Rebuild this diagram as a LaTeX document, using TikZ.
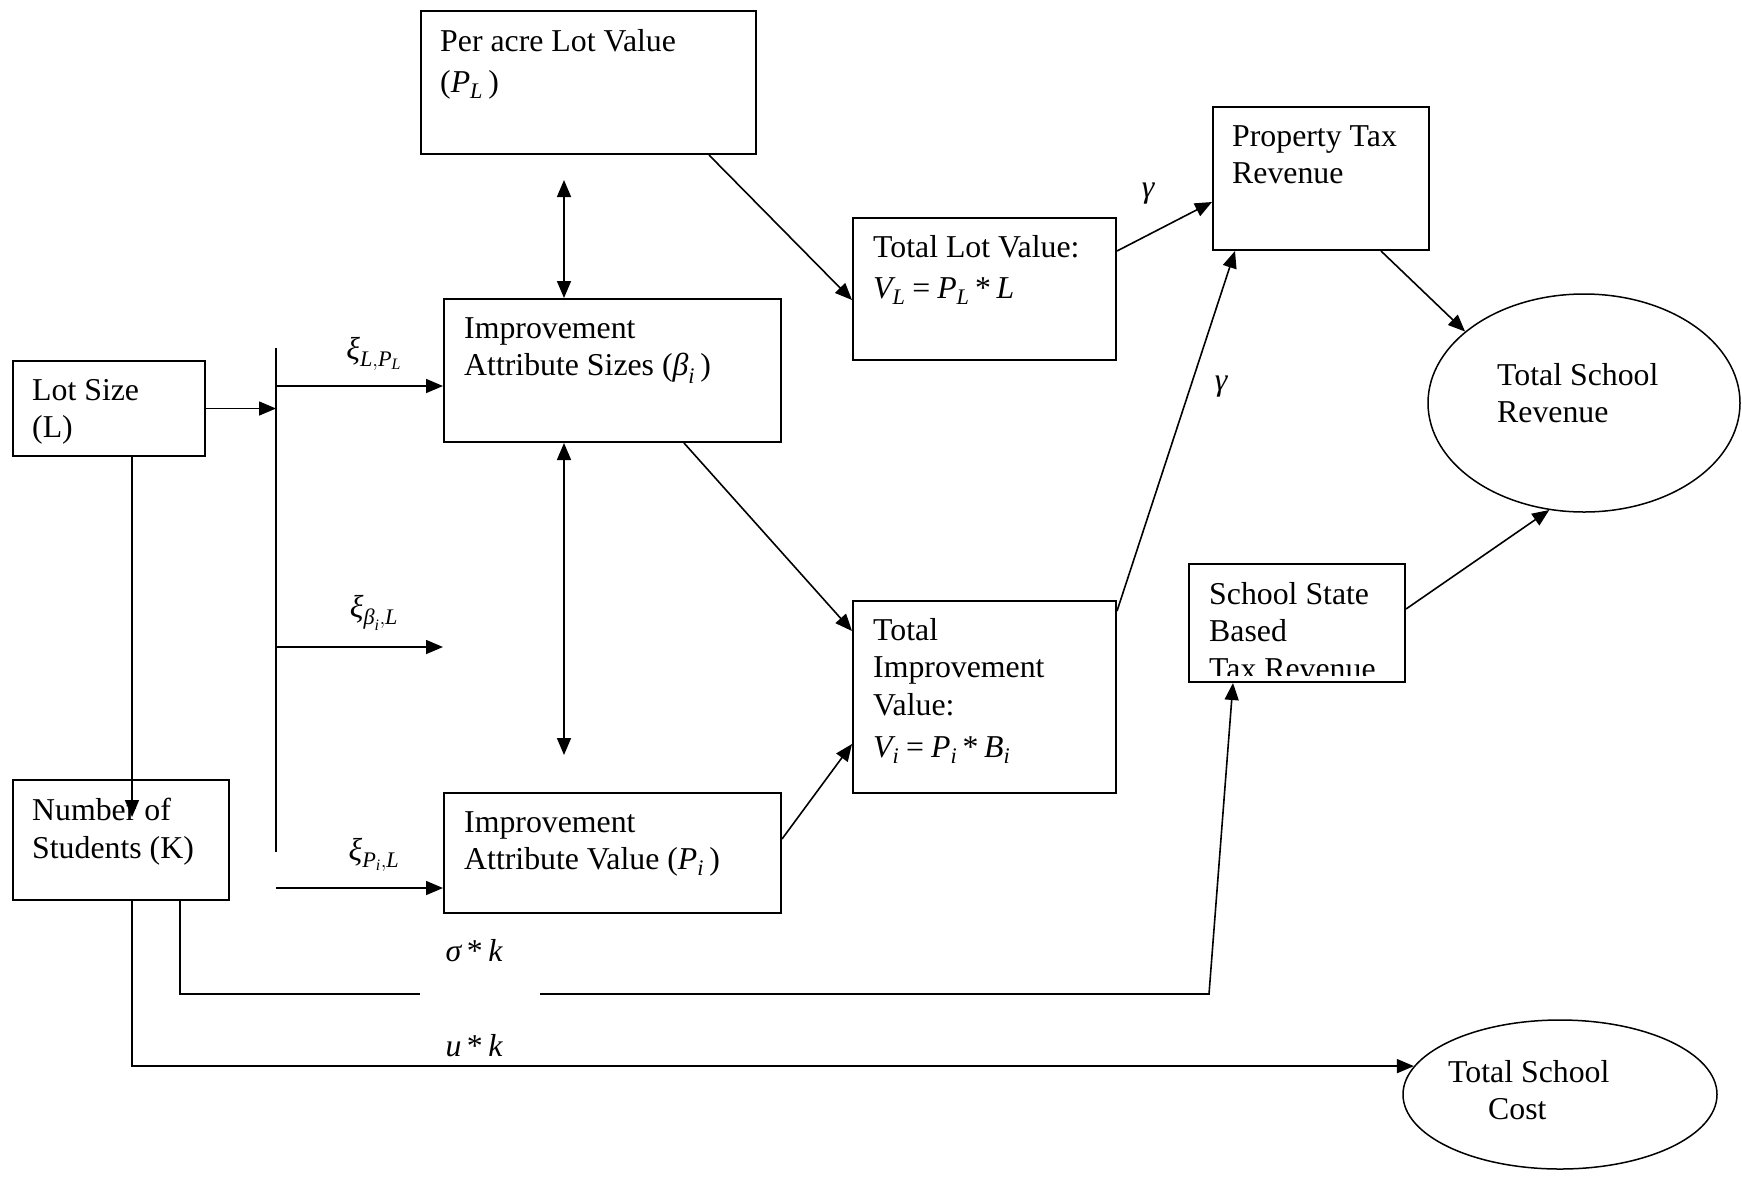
\documentclass[tikz,border=0pt]{standalone}
\usepackage{amsmath}
\usepackage{fontspec}
\setmainfont{Liberation Serif}
\usetikzlibrary{arrows.meta,shapes.geometric,calc}
\newcommand{\mv}[1]{\text{\normalfont\itshape #1}}
\newcommand{\mstar}{\mathbin{\text{\normalfont *}}}
\newcommand{\meq}{\mathrel{\text{\normalfont =}}}
\begin{document}
\begin{tikzpicture}[x=1pt,y=-1pt,
  box/.style={draw, line width=2pt, inner sep=0pt, anchor=north west},
  ell/.style={ellipse, draw, line width=1.5pt, inner sep=0pt},
  txt/.style={inner sep=0pt, align=left, anchor=north west, font=\fontsize{31.8}{37.5}\selectfont},
  lab/.style={inner sep=0pt, font=\fontsize{31.8}{37.5}\selectfont},
  con/.style={line width=1.6pt},
  arr/.style={con, -{Triangle[length=17pt,width=14pt]}},
  darr/.style={con, {Triangle[length=17pt,width=14pt]}-{Triangle[length=17pt,width=14pt]}}]
\useasboundingbox (0,0) rectangle (1742,1176);
\fill[white] (0,0) rectangle (1742,1176);

% boxes
\node[box, minimum width=335pt, minimum height=143pt] (pav) at (420,10) {};
\node[box, minimum width=337pt, minimum height=143pt] (ias) at (443,298) {};
\node[box, minimum width=192pt, minimum height=95pt]  (ls)  at (12,360) {};
\node[box, minimum width=263pt, minimum height=142pt] (tlv) at (852,217) {};
\node[box, minimum width=216pt, minimum height=143pt] (ptr) at (1212,106) {};
\node[box, minimum width=263pt, minimum height=192pt] (tiv) at (852,600) {};
\node[box, minimum width=216pt, minimum height=118pt] (ssb) at (1188,563) {};
\node[box, minimum width=337pt, minimum height=120pt] (iav) at (443,792) {};
\node[box, minimum width=216pt, minimum height=120pt] (nos) at (12,779) {};
\node[ell, minimum width=312pt, minimum height=218pt] (tsr) at (1584,403) {};
\node[ell, minimum width=314pt, minimum height=149pt] (tsc) at (1560,1094.5) {};

% box texts
\node[txt] (pavt) at ([shift={(20,19)}]pav.north west) {Per acre Lot Value\\[3.5pt](\textit{P}$_{\mv{L}}$\,)};
\node[txt] (iast) at ([shift={(21,19)}]ias.north west) {Improvement\\Attribute Sizes ($\mv{β}_{\mv{i}}$\,)};
\node[txt] (lst) at ([shift={(20,19)}]ls.north west) {Lot Size\\(L)};
\node[txt] (tlvt) at ([shift={(21,18)}]tlv.north west) {Total Lot Value:\\[3.5pt]$\mv{V}_{\mv{L}} \meq \mv{P}_{\mv{L}}\mstar\mv{L}$};
\node[txt] (ptrt) at ([shift={(20,19)}]ptr.north west) {Property Tax\\Revenue};
\node[txt] (tivt) at ([shift={(21,18)}]tiv.north west) {Total\\Improvement\\Value:\\[4.5pt]$\mv{V}_{\mv{i}} \meq \mv{P}_{\mv{i}}\mstar\mv{B}_{\mv{i}}$};
\begin{scope}
\clip (ssb.north west) rectangle ([yshift=8pt]ssb.south east);
\node[txt] (ssbt) at ([shift={(21,19)}]ssb.north west) {School State\\Based\\Tax Revenue};
\end{scope}
\node[txt] (iavt) at ([shift={(21,19)}]iav.north west) {Improvement\\Attribute Value ($\mv{P}_{\mv{i}}$\,)};
\node[txt] (nost) at ([shift={(20,19)}]nos.north west) {Number of\\Students (K)};
\node[txt] (tsrt) at (1497,363) {Total School\\Revenue};
\node[txt] (tsct) at (1448,1060) {Total School\\\hspace*{40pt}Cost};

% left bar and xi arrows
\coordinate (bt) at (276,348);
\coordinate (bb) at (276,852);
\draw[con] (bt) -- (bb);
\draw[arr] (ls.east) -- (ls.east -| bt);
\coordinate (x1) at (276,386);
\draw[arr] (x1) -- (x1 -| ias.west);
\coordinate (x2) at (276,647);
\coordinate (x2e) at (443,647);
\draw[arr] (x2) -- (x2e);
\coordinate (x3) at (276,888);
\draw[arr] (x3) -- (x3 -| iav.west);

% double arrows
\draw[darr] ([xshift=144pt,yshift=-25pt]pav.south west) -- ([xshift=121pt]ias.north west);
\draw[darr] ([xshift=121pt]ias.south west) -- ([xshift=121pt,yshift=37pt]iav.north west);

% diagonal connectors
\draw[arr] ([xshift=289pt]pav.south west) -- ([yshift=-83pt]tlv.north west);
\draw[arr] ([xshift=241pt]ias.south west) -- ([yshift=-31pt]tiv.north west);
\draw[arr] ([yshift=-47pt]iav.north east) -- ([yshift=-144pt]tiv.north west);
\draw[arr] ([yshift=-34pt]tlv.north east) -- ([yshift=-96pt]ptr.north west);
\draw[arr] ([yshift=-11pt]tiv.north east) -- ([xshift=23pt]ptr.south west);
\draw[arr] ([xshift=169pt]ptr.south west) -- (tsr.149.5);
\draw[arr] ([yshift=-46pt]ssb.north east) -- (tsr.-108.6);

% lot size to number of students
\draw[arr] ([xshift=120pt]ls.south west) -- ([xshift=120pt,yshift=-38pt]nos.north west);

% u*k path
\draw[arr] ([xshift=120pt]nos.south west) |- (tsc.169.8);

% sigma*k path
\coordinate (g1) at (420,994);
\coordinate (g2) at (540,994);
\coordinate (kc) at (1209,994);
\draw[con] ([xshift=168pt]nos.south west) |- (g1);
\draw[arr] (g2) -- (kc) -- ([xshift=45pt]ssb.south west);

% labels
\node[lab] (l1) at (374,354) {$\mv{ξ}_{\mv{L},\mv{P}_{\mv{L}}}$};
\node[lab] (l2) at (374,613) {$\mv{ξ}_{\mv{β}_{\mv{i}},\mv{L}}$};
\node[lab] (l3) at (374,855) {$\mv{ξ}_{\mv{P}_{\mv{i}},\mv{L}}$};
\node[lab] (ga) at (1148,194) {$\mv{γ}$};
\node[lab] (gb) at (1221,387) {$\mv{γ}$};
\node[lab] (sk) at (474,951) {$\mv{σ}\mstar\mv{k}$};
\node[lab] (uk) at (474,1046) {$\mv{u}\mstar\mv{k}$};
\end{tikzpicture}
\end{document}
